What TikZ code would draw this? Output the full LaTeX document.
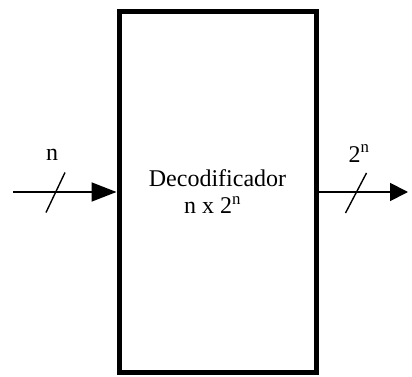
\documentclass[tikz,border=0pt]{standalone}
\usepackage{fontspec}
\setmainfont{Liberation Serif}
\usetikzlibrary{arrows.meta,positioning}

\begin{document}
\begin{tikzpicture}[x=1pt,y=-1pt,
      block/.style={draw,line width=5pt,minimum width=197pt,minimum height=360pt,
                    align=center,inner sep=0pt,font=\fontsize{24}{27}\selectfont},
      bus/.style={line width=1.8pt,-{Triangle[length=25pt,width=19pt]}},
      slash/.style={line width=1.4pt},
      lbl/.style={font=\fontsize{24}{26}\selectfont,inner sep=0pt,anchor=base},
  ]
  \useasboundingbox (0,0) rectangle (412,377);

  %--- decoder block ---
  \node[block] (dec) at (217.5,192) {Decodificador\\n x 2\textsuperscript{n}\hspace*{10pt}};

  %--- input bus ---
  \coordinate (in) at (13,192);
  \draw[bus] (in) -- (dec.west);
  \coordinate (s1) at (55.5,192.5);
  \draw[slash] ([shift={(-9.5,20)}]s1) -- ([shift={(9.5,-20)}]s1);
  \node[lbl] (n) at (52,160) {n};

  %--- output bus ---
  \coordinate (out) at (408,192);
  \draw[bus,-{Triangle[length=18pt,width=18pt]}] (dec.east) -- (out);
  \coordinate (s2) at (356,193);
  \draw[slash] ([shift={(-10.5,20)}]s2) -- ([shift={(10.5,-20)}]s2);
  \node[lbl] (m) at (359,162) {2\textsuperscript{n}};
\end{tikzpicture}
\end{document}
